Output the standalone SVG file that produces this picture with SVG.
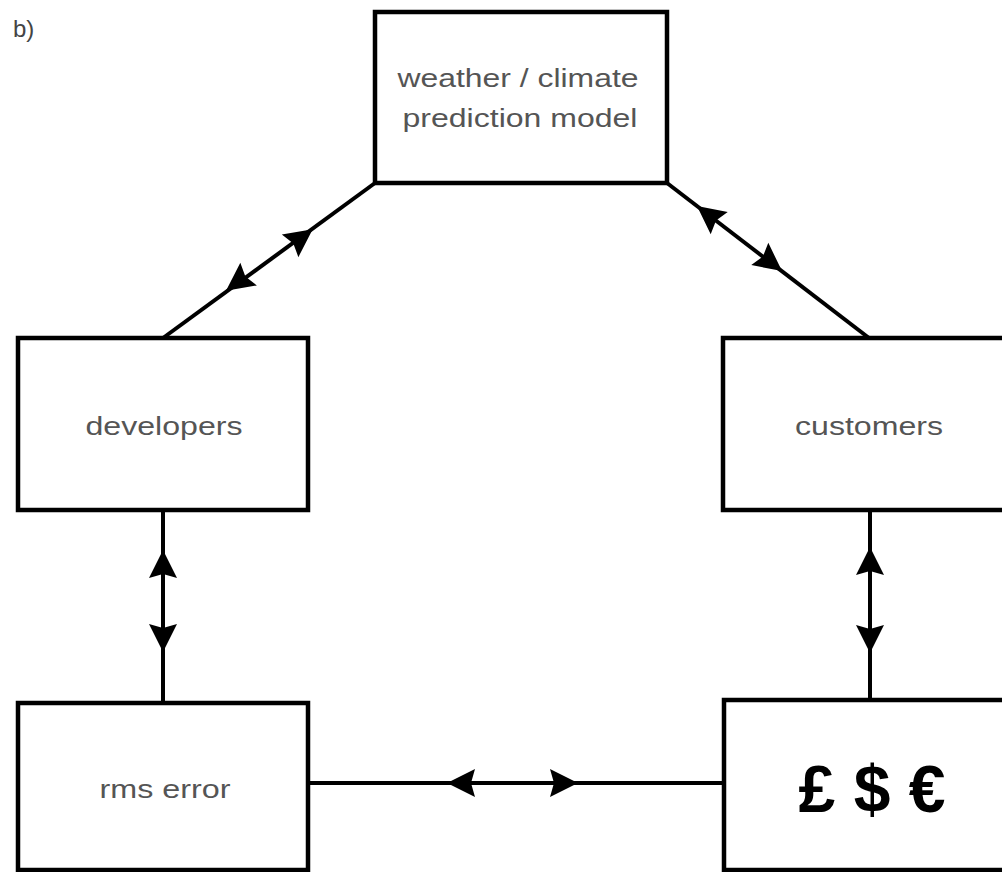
<svg xmlns="http://www.w3.org/2000/svg" xmlns:xlink="http://www.w3.org/1999/xlink" width="1002" height="872" viewBox="0 0 1002 872">
<style>
.box{fill:#fff;stroke:#000;stroke-width:4.5}
.lbl{font-family:"Liberation Sans",Arial,sans-serif;font-size:26px;fill:#555;text-anchor:middle}
.conn{stroke:#000;stroke-width:4;fill:none}
.ah{fill:#000}
</style>
<defs>
<path id="ah" class="ah" d="M0,0 L-28,-14 L-24,0 L-28,14 Z"/>
</defs>
<rect width="1002" height="872" fill="#fff"/>
<text x="13" y="37" font-family="Liberation Sans, Arial, sans-serif" font-size="24" fill="#444">b)</text>
<g id="connectors">
<line class="conn" x1="163" y1="338" x2="375" y2="183"/>
<line class="conn" x1="667" y1="183" x2="869" y2="338"/>
<line class="conn" x1="163" y1="510" x2="163" y2="703"/>
<line class="conn" x1="870" y1="510" x2="870" y2="700"/>
<line class="conn" x1="308" y1="783" x2="723" y2="783"/>
<use xlink:href="#ah" transform="translate(312.7,229.3) rotate(-36.2)"/>
<use xlink:href="#ah" transform="translate(226,290.7) rotate(143.8)"/>
<use xlink:href="#ah" transform="translate(697,206) rotate(217.5)"/>
<use xlink:href="#ah" transform="translate(782,271) rotate(37.5)"/>
<use xlink:href="#ah" transform="translate(163,550) rotate(-90)"/>
<use xlink:href="#ah" transform="translate(163,652) rotate(90)"/>
<use xlink:href="#ah" transform="translate(870,547) rotate(-90)"/>
<use xlink:href="#ah" transform="translate(870,653) rotate(90)"/>
<use xlink:href="#ah" transform="translate(447,783) rotate(180)"/>
<use xlink:href="#ah" transform="translate(578,783)"/>
</g>
<g id="model">
<rect class="box" x="375" y="12" width="292" height="171"/>
<text class="lbl" x="518" y="87" textLength="241" lengthAdjust="spacingAndGlyphs">weather / climate</text>
<text class="lbl" x="520" y="127" textLength="235" lengthAdjust="spacingAndGlyphs">prediction model</text>
</g>
<g id="developers">
<rect class="box" x="18" y="338" width="290" height="172"/>
<text class="lbl" x="164" y="435" textLength="157" lengthAdjust="spacingAndGlyphs">developers</text>
</g>
<g id="customers">
<rect class="box" x="723" y="338" width="292" height="172"/>
<text class="lbl" x="869" y="435" textLength="148" lengthAdjust="spacingAndGlyphs">customers</text>
</g>
<g id="rms">
<rect class="box" x="18" y="703" width="290" height="167"/>
<text class="lbl" x="165" y="798" textLength="131" lengthAdjust="spacingAndGlyphs">rms error</text>
</g>
<g id="money">
<rect class="box" x="724" y="700" width="292" height="170"/>
<text x="872" y="812" font-family="Liberation Sans, Arial, sans-serif" font-size="66" font-weight="bold" fill="#000" text-anchor="middle">£ $ €</text>
</g>
</svg>
